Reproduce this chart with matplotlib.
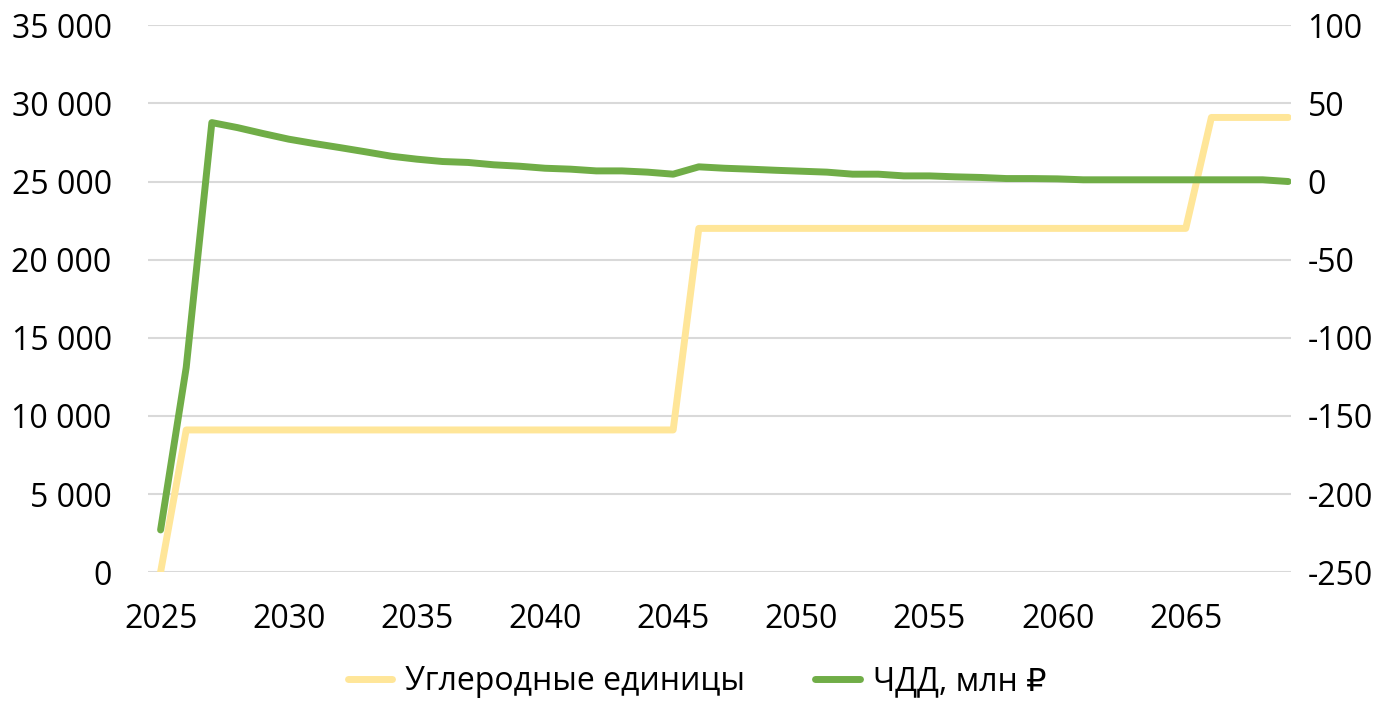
import matplotlib
matplotlib.use("Agg")
import matplotlib.pyplot as plt
from matplotlib.ticker import FuncFormatter

# данные
годы = list(range(2025, 2070))
углеродные_единицы = [0] + [9100] * 20 + [22000] * 20 + [29100] * 4
чдд = [-223, -119, 37.7, 34.5, 30.7, 27.1, 24.3, 21.7, 19.0, 16.2,
       14.3, 12.8, 12.2, 10.7, 9.8, 8.5, 7.9, 6.8, 6.8, 6.0,
       4.7, 9.4, 8.5, 7.9, 7.2, 6.6, 6.0, 4.7, 4.7, 3.6,
       3.6, 3.0, 2.6, 1.9, 1.9, 1.7, 1.1, 1.1, 1.1, 1.1,
       1.1, 1.1, 1.1, 1.1, 0.0]
подписи_x = list(range(2025, 2066, 5))

plt.rcParams['font.family'] = ['Open Sans', 'DejaVu Sans']

fig = plt.figure(figsize=(13.94, 7.02), dpi=100)
ax = fig.add_axes([0.106, 0.185, 0.820, 0.779])
ax2 = ax.twinx()

l1, = ax.plot(годы, углеродные_единицы, color="#FFE699", lw=5, solid_capstyle="round",
              label="Углеродные единицы", zorder=3)
l2, = ax2.plot(годы, чдд, color="#70AD47", lw=5, solid_capstyle="round",
               label="ЧДД, млн ₽", zorder=3)

ax.set_xlim(2024.5, 2069.1)
ax.set_ylim(0, 35000)
ax2.set_ylim(-250, 100)
ax.set_yticks(range(0, 35001, 5000))
ax2.set_yticks(range(-250, 101, 50))
ax.set_xticks(подписи_x)

ax.yaxis.set_major_formatter(FuncFormatter(lambda v, p: f"{int(v):,}".replace(",", " ")))
ax2.yaxis.set_major_formatter(FuncFormatter(lambda v, p: str(int(v))))

ax.grid(axis="y", color="#d9d9d9", lw=1.5)
ax.set_axisbelow(True)
for a in (ax, ax2):
    for s in a.spines.values():
        s.set_visible(False)
    a.tick_params(length=0, labelsize=23)
ax.tick_params(axis="y", pad=26)
ax.tick_params(axis="x", pad=22)
ax2.tick_params(axis="y", pad=12)

fig.legend(handles=[l1, l2], loc="lower center", bbox_to_anchor=(0.5, -0.035),
           ncol=2, frameon=False, fontsize=23, handlelength=1.4,
           handletextpad=0.4, columnspacing=2.2)

fig.savefig("out.png", dpi=100)
